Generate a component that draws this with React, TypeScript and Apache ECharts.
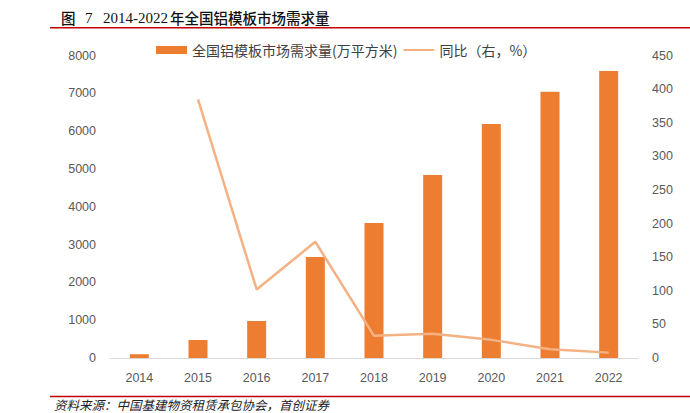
import React, { useEffect, useRef } from "react";
import * as echarts from "echarts";

const categories = ["2014", "2015", "2016", "2017", "2018", "2019", "2020", "2021", "2022"];
const demand = [100, 476, 979, 2673, 3572, 4843, 6193, 7047, 7595];
const yoy: (number | null)[] = [null, 385, 102, 173, 33, 36, 27, 13, 8];
const barName = "全国铝模板市场需求量(万平方米)";
const lineName = "同比（右，%）";
const titleCn = "年全国铝模板市场需求量";
const sourceText = "资料来源：中国基建物资租赁承包协会，首创证券";

export default function App() {
  const ref = useRef<HTMLDivElement>(null);
  useEffect(() => {
    if (!ref.current) return;
    const chart = echarts.init(ref.current, undefined, { renderer: "svg" });
    const axisLabel = {
      color: "#595959",
      fontSize: 12.5,
      fontFamily: "Liberation Sans, Noto Sans",
      formatter: (v: string | number) => String(v),
    };
    chart.setOption({
      animation: false,
      backgroundColor: "#ffffff",
      grid: { left: 110, right: 52, top: 55.7, bottom: 55 },
      legend: {
        left: 151,
        top: 37,
        itemWidth: 31,
        itemHeight: 8,
        itemGap: 5,
        textStyle: { color: "#404040", fontSize: 14, fontFamily: "Noto Sans CJK SC", lineHeight: 16 },
        data: [
          { name: barName, icon: "rect" },
          { name: lineName, itemStyle: { opacity: 0 } },
        ],
      },
      xAxis: {
        type: "category",
        data: categories,
        axisLine: { lineStyle: { color: "#D9D9D9", width: 1 } },
        axisTick: { show: false },
        axisLabel: { ...axisLabel, margin: 13 },
      },
      yAxis: [
        {
          type: "value",
          min: 0,
          max: 8000,
          interval: 1000,
          axisLine: { show: false },
          axisTick: { show: false },
          splitLine: { show: false },
          axisLabel: { ...axisLabel, margin: 14 },
        },
        {
          type: "value",
          min: 0,
          max: 450,
          interval: 50,
          axisLine: { show: false },
          axisTick: { show: false },
          splitLine: { show: false },
          axisLabel: { ...axisLabel, margin: 14 },
        },
      ],
      series: [
        {
          name: barName,
          type: "bar",
          data: demand,
          barWidth: 19,
          itemStyle: { color: "#ED7D31" },
        },
        {
          name: lineName,
          type: "line",
          yAxisIndex: 1,
          data: yoy,
          symbol: "none",
          lineStyle: { color: "#F4B183", width: 2.5 },
          itemStyle: { color: "#F4B183" },
        },
      ],
      graphic: [
        {
          type: "text",
          left: 61,
          top: 10,
          style: { text: "图", font: "500 14.5px 'Noto Sans CJK SC'", fill: "#111" },
        },
        {
          type: "text",
          left: 85,
          top: 10,
          style: { text: "7", font: "15px 'Liberation Serif'", fill: "#111" },
        },
        {
          type: "text",
          left: 103,
          top: 10,
          style: { text: "2014-2022", font: "15px 'Liberation Serif'", fill: "#111" },
        },
        {
          type: "text",
          left: 170,
          top: 10,
          style: { text: titleCn, font: "500 14.5px 'Noto Sans CJK SC'", fill: "#111" },
        },
        {
          type: "line",
          shape: { x1: 50, y1: 27.7, x2: 690, y2: 27.7 },
          style: { stroke: "#C00000", lineWidth: 1.5 },
        },
        {
          type: "line",
          shape: { x1: 50, y1: 396.5, x2: 690, y2: 396.5 },
          style: { stroke: "#C00000", lineWidth: 1.5 },
        },
        {
          type: "text",
          x: 54,
          y: 404,
          style: {
            text: sourceText,
            font: "italic 12.5px 'Noto Sans CJK SC'",
            fill: "#222",
            verticalAlign: "middle",
          },
        },
      ],
    });
    return () => chart.dispose();
  }, []);
  return <div ref={ref} style={{ position: "absolute", left: 0, top: 0, width: 690, height: 413 }} />;
}
